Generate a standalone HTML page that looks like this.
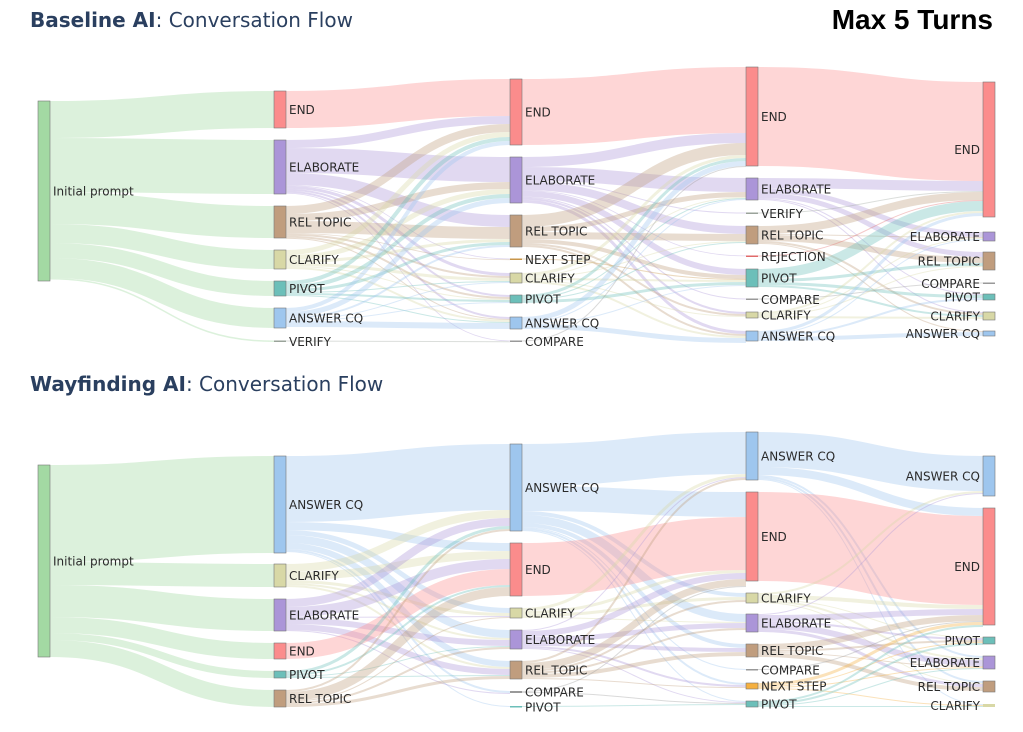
<!DOCTYPE html>
<html><head><meta charset="utf-8">
<style>
html,body{margin:0;padding:0;background:#fff;width:1023px;height:732px;overflow:hidden}
svg{display:block}
text{font-family:"DejaVu Sans","Liberation Sans",sans-serif}
</style></head><body>
<svg id="s" width="1023" height="732" xmlns="http://www.w3.org/2000/svg">
<text x="30" y="27" font-size="20" fill="#2a3f5f"><tspan font-weight="bold">Baseline AI</tspan>: Conversation Flow</text>
<text x="30" y="391" font-size="20" fill="#2a3f5f"><tspan font-weight="bold">Wayfinding AI</tspan>: Conversation Flow</text>
<text x="993" y="29" font-size="28" font-weight="bold" text-anchor="end" fill="#000" font-family="Liberation Sans, sans-serif" style="font-family:'Liberation Sans',sans-serif">Max 5 Turns</text>
<g id="links"></g><g id="nodes"></g>
</svg>
<script>
var C={END:"#fb8c8c",ELABORATE:"#ab95d8",REL:"#c09d7e",CLARIFY:"#d8d8a6",PIVOT:"#6cbfb9",ACQ:"#9ec6ee",VERIFY:"#9aa39a",COMPARE:"#999",NEXT:"#c8964a",NEXT2:"#f5b03f",REJ:"#e06a6a",INIT:"#a3d9a3"};
var LBL={END:"END",ELABORATE:"ELABORATE",REL:"REL TOPIC",CLARIFY:"CLARIFY",PIVOT:"PIVOT",ACQ:"ANSWER CQ",VERIFY:"VERIFY",COMPARE:"COMPARE",NEXT:"NEXT STEP",NEXT2:"NEXT STEP",REJ:"REJECTION",INIT:"Initial prompt"};
var XS=[38,274,510,746,983],W=12;
var NS="http://www.w3.org/2000/svg";
function el(t,a,p){var e=document.createElementNS(NS,t);for(var k in a)e.setAttribute(k,a[k]);p.appendChild(e);return e}
function chart(cols,links){
  var nodes={};
  cols.forEach(function(col,ci){col.forEach(function(n){var id=ci+n[0];nodes[id]={c:ci,k:n[0],y0:n[1],y1:n[2],out:[],inn:[]};});});
  links.forEach(function(l){var s=nodes[l[0]],t=nodes[l[1]];var o={s:s,t:t,w:l[2]};s.out.push(o);t.inn.push(o);});
  var lg=document.getElementById("links"),ng=document.getElementById("nodes");
  for(var id in nodes){var n=nodes[id];
    n.out.sort(function(a,b){return a.t.y0-b.t.y0});var y=n.y0;n.out.forEach(function(o){o.sy=y+o.w/2;y+=o.w;});
    n.inn.sort(function(a,b){return a.s.y0-b.s.y0});y=n.y0;n.inn.forEach(function(o){o.ty=y+o.w/2;y+=o.w;});
  }
  links.forEach(function(){});
  for(var id in nodes){nodes[id].out.forEach(function(o){
    var x1=XS[o.s.c]+W,x2=XS[o.t.c],xm=(x1+x2)/2;
    el("path",{d:"M"+x1+","+o.sy+"C"+xm+","+o.sy+" "+xm+","+o.ty+" "+x2+","+o.ty,fill:"none",stroke:C[o.s.k],"stroke-opacity":o.s.k=="INIT"?0.38:0.36,"stroke-width":Math.max(o.w,0.8)},lg);
  });}
  for(var id in nodes){var n=nodes[id];var h=Math.max(n.y1-n.y0,1.5);
    el("rect",{x:XS[n.c],y:n.y0,width:W,height:h,fill:C[n.k],stroke:"#777","stroke-width":h>3?0.6:0},ng);
    var t=el("text",{x:n.c==4?XS[n.c]-3:XS[n.c]+W+3,y:(n.y0+n.y1)/2+4.5,"font-size":12,fill:"#2a2a2a","text-anchor":n.c==4?"end":"start"},ng);
    t.textContent=LBL[n.k];
  }
}
chart([
 [["INIT",101,281]],
 [["END",91,128],["ELABORATE",140,194],["REL",206,238],["CLARIFY",250,269],["PIVOT",281,296],["ACQ",308,328],["VERIFY",340.5,342]],
 [["END",79,145],["ELABORATE",157,203],["REL",215,247],["NEXT",258.5,260],["CLARIFY",273,283],["PIVOT",295,303],["ACQ",317,329],["COMPARE",340.5,342]],
 [["END",67,166],["ELABORATE",178,200],["VERIFY",212.5,214],["REL",226,244],["REJ",255.5,257],["PIVOT",269,287],["COMPARE",298.5,300],["CLARIFY",312,318],["ACQ",331,341]],
 [["END",82,217],["ELABORATE",232,241],["REL",252,270],["COMPARE",282.5,284],["PIVOT",294,300],["CLARIFY",312,320],["ACQ",331,336]]
],[
 ["0INIT","1END",37],["0INIT","1ELABORATE",54],["0INIT","1REL",32],["0INIT","1CLARIFY",19],["0INIT","1PIVOT",15],["0INIT","1ACQ",20],["0INIT","1VERIFY",1.5],
 ["1END","2END",37],
 ["1ELABORATE","2END",8],["1ELABORATE","2ELABORATE",25],["1ELABORATE","2REL",12],["1ELABORATE","2NEXT",0.8],["1ELABORATE","2CLARIFY",3],["1ELABORATE","2PIVOT",2],["1ELABORATE","2ACQ",2],["1ELABORATE","2COMPARE",0.8],
 ["1REL","2END",8],["1REL","2ELABORATE",7],["1REL","2REL",12],["1REL","2CLARIFY",2],["1REL","2PIVOT",2],["1REL","2ACQ",1],["1REL","2NEXT",0.8],
 ["1CLARIFY","2END",5],["1CLARIFY","2ELABORATE",5],["1CLARIFY","2REL",3],["1CLARIFY","2CLARIFY",3],["1CLARIFY","2PIVOT",1],["1CLARIFY","2ACQ",2],
 ["1PIVOT","2END",4],["1PIVOT","2ELABORATE",4],["1PIVOT","2REL",3],["1PIVOT","2PIVOT",2],["1PIVOT","2ACQ",1],["1PIVOT","2CLARIFY",1],
 ["1ACQ","2END",4],["1ACQ","2ELABORATE",5],["1ACQ","2REL",2],["1ACQ","2ACQ",6],["1ACQ","2PIVOT",1],["1ACQ","2CLARIFY",1],
 ["1VERIFY","2COMPARE",1],
 ["2END","3END",66],
 ["2ELABORATE","3END",10],["2ELABORATE","3ELABORATE",14],["2ELABORATE","3REL",8],["2ELABORATE","3PIVOT",6],["2ELABORATE","3COMPARE",1],["2ELABORATE","3CLARIFY",2],["2ELABORATE","3ACQ",3],["2ELABORATE","3VERIFY",1],["2ELABORATE","3REJ",0.8],
 ["2REL","3END",12],["2REL","3ELABORATE",5],["2REL","3REL",7],["2REL","3PIVOT",4],["2REL","3CLARIFY",2],["2REL","3ACQ",2],
 ["2NEXT","3PIVOT",1],
 ["2CLARIFY","3END",3],["2CLARIFY","3ELABORATE",1],["2CLARIFY","3REL",1],["2CLARIFY","3PIVOT",2],["2CLARIFY","3CLARIFY",1],["2CLARIFY","3ACQ",2],
 ["2PIVOT","3END",3],["2PIVOT","3ELABORATE",1],["2PIVOT","3PIVOT",3],["2PIVOT","3REL",1],
 ["2ACQ","3END",5],["2ACQ","3ELABORATE",1],["2ACQ","3ACQ",5],["2ACQ","3PIVOT",1],
 ["2COMPARE","3END",1],
 ["3END","4END",99],
 ["3ELABORATE","4END",10],["3ELABORATE","4ELABORATE",5],["3ELABORATE","4REL",5],["3ELABORATE","4PIVOT",1],["3ELABORATE","4CLARIFY",1],
 ["3VERIFY","4END",1],
 ["3REL","4END",8],["3REL","4REL",6],["3REL","4ELABORATE",1],["3REL","4CLARIFY",2],["3REL","4ACQ",1],
 ["3REJ","4END",1],
 ["3PIVOT","4END",10],["3PIVOT","4PIVOT",3],["3PIVOT","4REL",3],["3PIVOT","4CLARIFY",2],
 ["3COMPARE","4COMPARE",1],
 ["3CLARIFY","4END",2],["3CLARIFY","4CLARIFY",2],["3CLARIFY","4REL",1],["3CLARIFY","4ELABORATE",1],
 ["3ACQ","4END",3],["3ACQ","4ACQ",4],["3ACQ","4PIVOT",2],["3ACQ","4ELABORATE",1]
]);
chart([
 [["INIT",465,657]],
 [["ACQ",456,553],["CLARIFY",564,587],["ELABORATE",599,631],["END",643,659],["PIVOT",671,678],["REL",690,707]],
 [["ACQ",444,531],["END",543,596],["CLARIFY",608,618],["ELABORATE",630,649],["REL",661,679],["COMPARE",691,693],["PIVOT",706,707.5]],
 [["ACQ",432,480],["END",492,581],["CLARIFY",593,603],["ELABORATE",614,632],["REL",644,657],["COMPARE",669,670.5],["NEXT2",683,689],["PIVOT",701,707]],
 [["ACQ",456,496],["END",508,625],["PIVOT",637,644],["ELABORATE",656,669],["REL",681,692],["CLARIFY",704,707]]
],[
 ["0INIT","1ACQ",97],["0INIT","1CLARIFY",23],["0INIT","1ELABORATE",32],["0INIT","1END",16],["0INIT","1PIVOT",7],["0INIT","1REL",17],
 ["1ACQ","2ACQ",66],["1ACQ","2END",8],["1ACQ","2CLARIFY",5],["1ACQ","2ELABORATE",8],["1ACQ","2REL",6],["1ACQ","2COMPARE",2],["1ACQ","2PIVOT",1],
 ["1CLARIFY","2ACQ",8],["1CLARIFY","2END",8],["1CLARIFY","2CLARIFY",3],["1CLARIFY","2ELABORATE",2],["1CLARIFY","2REL",2],
 ["1ELABORATE","2ACQ",8],["1ELABORATE","2END",10],["1ELABORATE","2CLARIFY",1],["1ELABORATE","2ELABORATE",6],["1ELABORATE","2REL",6],["1ELABORATE","2COMPARE",1],
 ["1END","2END",16],
 ["1PIVOT","2ACQ",3],["1PIVOT","2END",2],["1PIVOT","2ELABORATE",1],["1PIVOT","2REL",1],
 ["1REL","2ACQ",2],["1REL","2END",9],["1REL","2ELABORATE",2],["1REL","2REL",3],["1REL","2CLARIFY",1],
 ["2ACQ","3ACQ",42],["2ACQ","3END",25],["2ACQ","3CLARIFY",4],["2ACQ","3ELABORATE",8],["2ACQ","3REL",4],["2ACQ","3COMPARE",1],["2ACQ","3NEXT2",2],["2ACQ","3PIVOT",1],
 ["2END","3END",53],
 ["2CLARIFY","3ACQ",3],["2CLARIFY","3END",3],["2CLARIFY","3CLARIFY",3],["2CLARIFY","3ELABORATE",1],
 ["2ELABORATE","3ACQ",1],["2ELABORATE","3END",6],["2ELABORATE","3ELABORATE",5],["2ELABORATE","3REL",4],["2ELABORATE","3NEXT2",2],["2ELABORATE","3PIVOT",1],
 ["2REL","3ACQ",2],["2REL","3END",7],["2REL","3CLARIFY",2],["2REL","3ELABORATE",2],["2REL","3REL",4],["2REL","3NEXT2",1],
 ["2COMPARE","3END",1],["2COMPARE","3PIVOT",1],
 ["2PIVOT","3PIVOT",1],
 ["3ACQ","4ACQ",35],["3ACQ","4END",8],["3ACQ","4ELABORATE",2],["3ACQ","4REL",2],["3ACQ","4CLARIFY",1],
 ["3END","4END",89],
 ["3CLARIFY","4ACQ",2],["3CLARIFY","4END",4],["3CLARIFY","4ELABORATE",2],["3CLARIFY","4REL",1],["3CLARIFY","4PIVOT",1],
 ["3ELABORATE","4ACQ",1],["3ELABORATE","4END",6],["3ELABORATE","4ELABORATE",6],["3ELABORATE","4REL",3],["3ELABORATE","4PIVOT",2],
 ["3REL","4END",6],["3REL","4REL",4],["3REL","4PIVOT",2],["3REL","4ELABORATE",1],
 ["3COMPARE","4END",1],
 ["3NEXT2","4END",3],["3NEXT2","4PIVOT",1],["3NEXT2","4ELABORATE",1],["3NEXT2","4CLARIFY",1],
 ["3PIVOT","4END",2],["3PIVOT","4PIVOT",2],["3PIVOT","4ELABORATE",1],["3PIVOT","4CLARIFY",1]
]);
</script>
</body></html>
